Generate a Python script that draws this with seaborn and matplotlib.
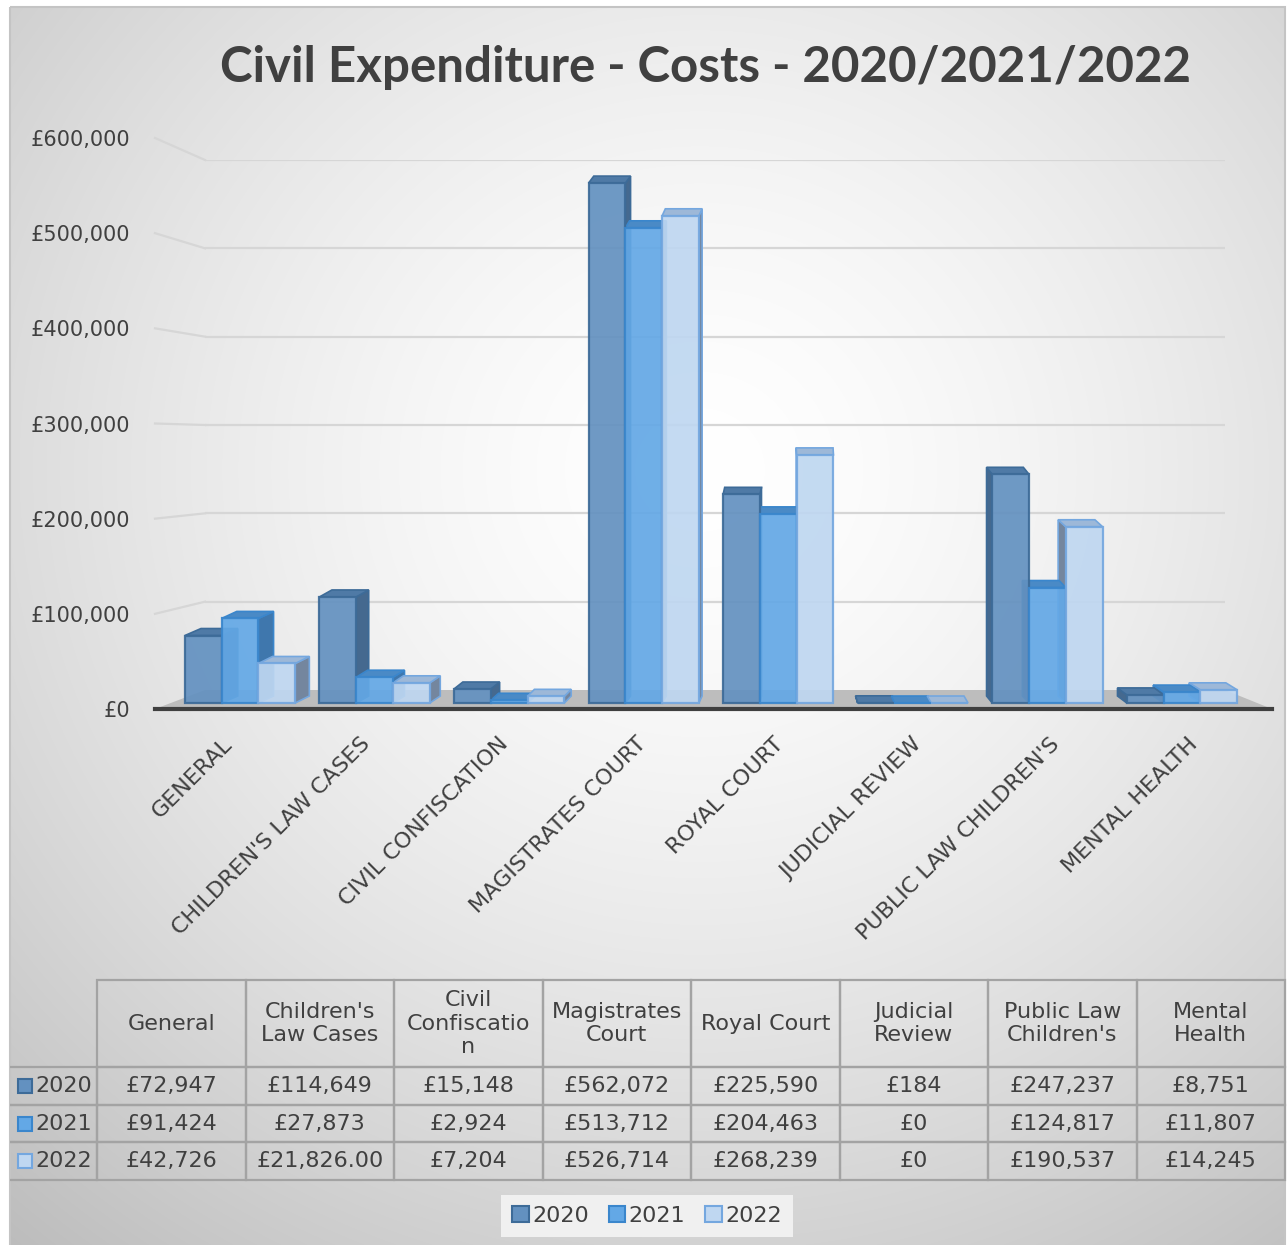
import numpy as np
import pandas as pd
import matplotlib
matplotlib.use("Agg")
import matplotlib.pyplot as plt
import seaborn as sns
from matplotlib.patches import Polygon, Patch, Rectangle
from matplotlib.lines import Line2D
from matplotlib.ticker import FuncFormatter
from matplotlib.transforms import ScaledTranslation

# ---- data -------------------------------------------------------------
categories = ["General", "Children's Law Cases", "Civil Confiscation",
              "Magistrates Court", "Royal Court", "Judicial Review",
              "Public Law Children's", "Mental Health"]
table_headers = ["General", "Children's\nLaw Cases", "Civil\nConfiscatio\nn",
                 "Magistrates\nCourt", "Royal Court", "Judicial\nReview",
                 "Public Law\nChildren's", "Mental\nHealth"]
years = ["2020", "2021", "2022"]
costs_2020 = [72947, 114649, 15148, 562072, 225590, 184, 247237, 8751]
costs_2021 = [91424, 27873, 2924, 513712, 204463, 0, 124817, 11807]
costs_2022 = [42726, 21826.00, 7204, 526714, 268239, 0, 190537, 14245]
pence_cells = {("2022", "Children's Law Cases")}
y_ticks = [0, 100000, 200000, 300000, 400000, 500000, 600000]
title = "Civil Expenditure - Costs - 2020/2021/2022"

face_colors = {"2020": "#6391c0", "2021": "#63a8e6", "2022": "#bfd7f1"}
edge_colors = {"2020": "#3d6b98", "2021": "#3a86cc", "2022": "#74a7df"}
top_colors = {"2020": "#4f7aa6", "2021": "#4a8ac6", "2022": "#9db8d8"}
side_colors = {"2020": "#45698f", "2021": "#3f77ad", "2022": "#74869e"}
text_color = "#404040"

series = {"2020": costs_2020, "2021": costs_2021, "2022": costs_2022}
df = pd.DataFrame({
    "category": categories * len(years),
    "year": np.repeat(years, len(categories)),
    "cost": costs_2020 + costs_2021 + costs_2022,
})

# ---- figure / background ------------------------------------------------
W, H = 1288, 1245
fig = plt.figure(figsize=(W / 100, H / 100), dpi=100)
plt.rcParams["font.family"] = ["DejaVu Sans"]


def fx(px):
    return px / W


def fy(py):
    return 1 - py / H


bg = fig.add_axes([0, 0, 1, 1], zorder=-10)
bg.set_xlim(0, W)
bg.set_ylim(H, 0)
bg.axis("off")
gx, gy = np.meshgrid(np.arange(10, 1286) + 0.5, np.arange(7, 1245) + 0.5)
r = np.hypot(gx - 700, (gy - 470) * 1.05) / 950
shade = 1 - 0.22 * np.clip(r, 0, 1.2) ** 1.5
rgb = np.dstack([shade, shade, shade])
bg.imshow(rgb, extent=(10, 1286, 1245, 7), interpolation="nearest",
          aspect="auto")
bg.add_patch(Rectangle((10, 7), 1275, 1240, fill=False, ec="#c4c4c4", lw=1.5))

# back wall with the horizontal gridlines
wall = fig.add_axes([fx(205), fy(690), fx(1225) - fx(205), fy(160) - fy(690)])
wall.set_facecolor("none")
wall.set_ylim(0, 600000)
wall.set_yticks(y_ticks[1:])
wall.set_xticks([])
wall.tick_params(length=0, labelleft=False)
wall.grid(axis="y", color="#d6d6d6", lw=1.6)
for s in wall.spines.values():
    s.set_visible(False)

# ---- bars -----------------------------------------------------------------
ax = fig.add_axes([fx(155), fy(709), fx(1272) - fx(155), fy(138) - fy(709)])
ax.set_facecolor("none")
sns.barplot(data=df, x="category", y="cost", hue="year", order=categories,
            hue_order=years, palette=face_colors, width=0.82, dodge=True,
            errorbar=None, saturation=1, legend=False, ax=ax)
ax.set_xlim(-0.632, 7.669)
ax.set_ylim(-6486, 610811)
for s in ax.spines.values():
    s.set_visible(False)
ax.set_xlabel("")
ax.set_ylabel("")
ax.set_yticks([])
ax.tick_params(axis="x", length=0, pad=23)
ax.set_xticks(range(len(categories)))
ax.set_xticklabels([c.upper() for c in categories], rotation=45, ha="right",
                   va="center", rotation_mode="anchor", fontsize=16,
                   color=text_color)
# category labels sit on the (wider) front edge of the floor
x_first = ax.transData.transform((0, 0))[0]
for i, lbl in enumerate(ax.get_xticklabels()):
    xi = ax.transData.transform((i, 0))[0]
    shift_px = -11 + (xi - x_first) * 0.0245
    lbl.set_transform(lbl.get_transform() +
                      ScaledTranslation(shift_px / 100, 0, fig.dpi_scale_trans))

# depth faces: a top and a side panel behind every bar front
inv = ax.transData.inverted()
vanish_x, persp, depth = 800, 0.027, 7
for year, cont in zip(years, ax.containers):
    for bar in cont:
        bar.set_edgecolor(edge_colors[year])
        bar.set_linewidth(1.6)
        bar.set_alpha(0.92)
        bar.set_zorder(3)
        (px0, py0) = ax.transData.transform((bar.get_x(), 0))
        (px1, py1) = ax.transData.transform((bar.get_x() + bar.get_width(),
                                             bar.get_height()))
        dx = (vanish_x - (px0 + px1) / 2) * persp
        top = [(px0, py1), (px1, py1), (px1 + dx, py1 + depth),
               (px0 + dx, py1 + depth)]
        xs = px1 if dx >= 0 else px0
        side = [(xs, py0), (xs, py1), (xs + dx, py1 + depth),
                (xs + dx, py0 + depth)]
        ax.add_patch(Polygon(inv.transform(side), closed=True,
                             fc=side_colors[year], ec=edge_colors[year],
                             lw=1.2, zorder=2, clip_on=False))
        ax.add_patch(Polygon(inv.transform(top), closed=True,
                             fc=top_colors[year], ec=edge_colors[year],
                             lw=1.2, zorder=2.5, clip_on=False))

# floor between the front edge and the back wall
fb = ax.get_position()
wb = wall.get_position()
floor_fig = [(fb.x0, fb.y0), (fb.x1, fb.y0), (wb.x1, wb.y0), (wb.x0, wb.y0)]
floor_disp = fig.transFigure.transform(floor_fig)
ax.add_patch(Polygon(inv.transform(floor_disp), closed=True, fc="#bdbdbd",
                     ec="none", zorder=0.5, clip_on=False))
ax.add_line(Line2D(inv.transform(floor_disp[:2])[:, 0],
                   inv.transform(floor_disp[:2])[:, 1], color="#3f3f3f",
                   lw=3, zorder=1, clip_on=False))

# value axis labels on the front edge of the side wall
ax2 = fig.add_axes(ax.get_position().bounds)
ax2.set_facecolor("none")
ax2.set_ylim(0, 600000)
ax2.set_yticks(y_ticks)
ax2.yaxis.set_major_formatter(FuncFormatter(lambda v, p: f"£{v:,.0f}"))
ax2.set_xticks([])
ax2.tick_params(axis="y", length=0, pad=18, labelsize=15, labelcolor=text_color)
for s in ax2.spines.values():
    s.set_visible(False)

# side wall gridline stubs
for v in y_ticks[1:]:
    yf = ax2.transData.transform((0, v))[1]
    yb = wall.transData.transform((0, v))[1]
    p0 = fig.transFigure.inverted().transform((fb.x0 * W, yf))
    p1 = fig.transFigure.inverted().transform((wb.x0 * W, yb))
    fig.add_artist(Line2D([fb.x0, wb.x0], [p0[1], p1[1]], color="#d6d6d6",
                          lw=1.6, transform=fig.transFigure, zorder=0.5))

# ---- title ------------------------------------------------------------------
fig.text(fx(706), fy(67), title, ha="center", va="center", fontsize=35.5,
         fontweight="bold", color=text_color, family=["Lato", "DejaVu Sans"])

# ---- data table -------------------------------------------------------------


def money(year, cat, v):
    if (year, cat) in pence_cells:
        return f"£{v:,.2f}"
    return f"£{v:,.0f}"


cell_text = [[y] + [money(y, c, v) for c, v in zip(categories, series[y])]
             for y in years]
tx0, tx1, ty0, ty1 = 10, 1285, 980, 1180
tax = fig.add_axes([fx(tx0), fy(ty1), fx(tx1) - fx(tx0), fy(ty0) - fy(ty1)])
tax.axis("off")
label_w = 87
col_w = (tx1 - tx0 - label_w) / len(categories)
tab = tax.table(cellText=cell_text, colLabels=[""] + table_headers,
                cellLoc="center", bbox=[0, 0, 1, 1],
                colWidths=[label_w / (tx1 - tx0)] + [col_w / (tx1 - tx0)] * 8)
tab.auto_set_font_size(False)
head_h, row_h = 87, (ty1 - ty0 - 87) / 3
for (r_, c_), cell in tab.get_celld().items():
    cell.set_height((head_h if r_ == 0 else row_h) / (ty1 - ty0))
    cell.set_facecolor("none")
    cell.set_edgecolor("#a3a3a3")
    cell.set_linewidth(1.6)
    cell.get_text().set_fontsize(16)
    cell.get_text().set_color(text_color)
    if c_ == 0:
        cell.visible_edges = "" if r_ == 0 else "BTR"
        cell.get_text().set_ha("right")
        cell.PAD = 0.06

# series swatches in the row labels
for i, y in enumerate(years):
    yc = 1 - (head_h + row_h * (i + 0.5)) / (ty1 - ty0)
    tax.plot([(25 - tx0) / (tx1 - tx0)], [yc], marker="s", ms=10,
             mfc=face_colors[y], mec=edge_colors[y], mew=1.5,
             transform=tax.transAxes, clip_on=False)

# ---- legend -----------------------------------------------------------------
handles = [Patch(fc=face_colors[y], ec=edge_colors[y], lw=1.5, label=y)
           for y in years]
leg = fig.legend(handles=handles, loc="center", bbox_to_anchor=(fx(647), fy(1216)),
                 ncol=3, fontsize=16, handlelength=0.75, handleheight=0.75,
                 handletextpad=0.15, columnspacing=0.9, frameon=True,
                 fancybox=False, facecolor="#f0f0f0", edgecolor="none",
                 framealpha=1, borderpad=0.5)
for t in leg.get_texts():
    t.set_color(text_color)

fig.savefig("out.png", dpi=100)
